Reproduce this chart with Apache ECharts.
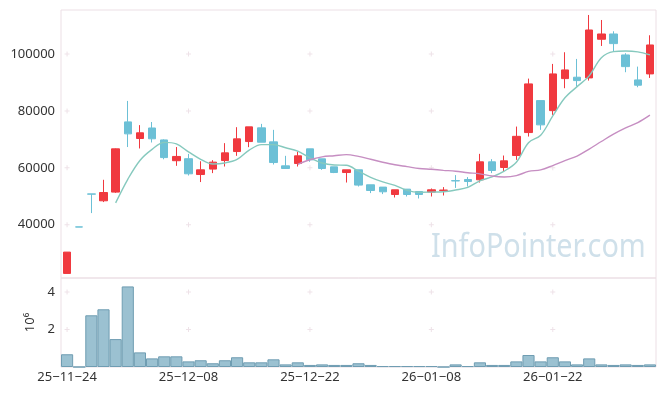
<!DOCTYPE html>
<html><head><meta charset="utf-8">
<script src="https://cdn.jsdelivr.net/npm/echarts@6/dist/echarts.min.js"></script>
<style>html,body{margin:0;padding:0;background:#fff}#c{width:665px;height:396px}</style>
</head><body><div id="c"></div>
<script>
const dates = ['25-11-24','25-11-25','25-11-26','25-11-27','25-11-28','25-12-01','25-12-02','25-12-03','25-12-04','25-12-05',
  '25-12-08','25-12-09','25-12-10','25-12-11','25-12-12','25-12-15','25-12-16','25-12-17','25-12-18','25-12-19',
  '25-12-22','25-12-23','25-12-24','25-12-26','25-12-29','25-12-30','26-01-02','26-01-05','26-01-06','26-01-07',
  '26-01-08','26-01-09','26-01-12','26-01-13','26-01-14','26-01-15','26-01-16','26-01-19','26-01-20','26-01-21',
  '26-01-22','26-01-23','26-01-26','26-01-27','26-01-28','26-01-29','26-01-30','26-02-02','26-02-03'];
const opens  = [22900,39250,50850,48420,51470,76140,70300,74000,69800,62500,63200,57650,59550,62560,65720,69230,74040,69120,60700,61510,
  66670,63160,60350,58350,59300,54040,53230,50630,52510,51690,51480,52050,55500,55900,55790,62110,60110,64320,72390,83620,
  80110,91340,91830,91580,105160,107020,99650,90880,92990];
const closes = [30400,39200,50750,51330,66670,71930,72300,70200,63600,64000,57900,59300,62000,65260,70180,74390,69000,61860,59760,64210,
  62810,59760,58350,59300,53930,52040,51580,52280,50630,50630,52280,52200,55400,55190,62110,59060,62460,71060,89480,75090,
  92990,94390,90640,108420,107020,103630,95550,89020,103160];
const lows   = [22900,39200,44100,47970,51200,67300,66800,68900,63000,60700,57300,55000,58140,60460,64210,67260,69000,61160,59760,60460,
  62110,59300,58140,54840,53440,51120,50770,49580,49930,49230,49930,50280,52950,53440,54840,58140,58700,62810,70990,73340,
  78600,87960,88530,90640,102810,100810,93580,88300,91580];
const highs  = [30400,39250,50850,55800,66800,83500,75000,76100,70000,67300,64900,62300,62700,68670,74280,74390,75440,73340,64210,65720,
  66670,63160,60350,59300,59300,54040,53230,52280,52510,51690,52740,53230,57440,56740,64910,63050,64320,74490,91340,83620,
  96500,100600,98250,113690,111930,107970,100250,95550,106560];
const volumes = [680000,0,2760000,3080000,1490000,4300000,780000,460000,570000,570000,300000,360000,200000,360000,520000,250000,250000,410000,140000,250000,
  110000,140000,110000,110000,200000,110000,50000,50000,50000,50000,50000,0,140000,50000,250000,110000,110000,300000,640000,300000,
  520000,300000,140000,460000,140000,110000,140000,110000,140000];
const priceTicks = [40000,60000,80000,100000];
const volumeTicks = [2000000,4000000];
const maShort = 5, maLong = 20;
const labelEvery = 10;

function movingAverage(n){
  return closes.map((c,i)=>{
    if(i<n-1) return '-';
    let s=0; for(let k=i-n+1;k<=i;k++) s+=closes[k];
    return +(s/n).toFixed(1);
  });
}
const labelIdx = dates.map((d,i)=>i).filter(i=>i%labelEvery===0);
const plusPrice=[], plusVol=[];
labelIdx.forEach(i=>{ priceTicks.forEach(v=>plusPrice.push([dates[i],v])); volumeTicks.forEach(v=>plusVol.push([dates[i],v])); });

const FONT='Noto Sans';
const border='#ecdfe5';
const plusSym='path://M2,0h1v5h-1z M0,2h5v1h-5z';
const chart=echarts.init(document.getElementById('c'),null,{renderer:'canvas'});
chart.setOption({
  animation:false,
  backgroundColor:'#fff',
  textStyle:{fontFamily:FONT},
  grid:[
    {left:61,top:10,width:595,height:268,show:true,borderColor:border,borderWidth:1,backgroundColor:'transparent'},
    {left:61,top:278,width:595,height:89,show:true,borderColor:border,borderWidth:1,backgroundColor:'transparent'}
  ],
  xAxis:[
    {type:'category',gridIndex:0,data:dates,boundaryGap:true,axisLine:{show:false},axisTick:{show:false},axisLabel:{show:false},splitLine:{show:false}},
    {type:'category',gridIndex:1,data:dates,boundaryGap:true,axisLine:{show:false},axisTick:{show:false},splitLine:{show:false},
     axisLabel:{interval:labelEvery-1,margin:4,color:'#333',fontSize:13,fontFamily:FONT,formatter:v=>v.replace(/-/g,'\u2212')}}
  ],
  yAxis:[
    {type:'value',gridIndex:0,min:21300,max:115440,splitNumber:5,axisLine:{show:false},axisTick:{show:false},splitLine:{show:false},
     axisLabel:{margin:6,color:'#333',fontSize:13,fontFamily:FONT,formatter:v=>priceTicks.indexOf(v)>=0?String(v):''}},
    {type:'value',gridIndex:1,min:0,max:4750000,splitNumber:2,axisLine:{show:false},axisTick:{show:false},splitLine:{show:false},
     name:'10\u2076',nameLocation:'middle',nameRotate:90,nameGap:20,nameTextStyle:{color:'#333',fontSize:13,fontFamily:FONT},
     axisLabel:{margin:6,color:'#333',fontSize:13,fontFamily:FONT,formatter:v=>volumeTicks.indexOf(v)>=0?String(v/1e6):''}}
  ],
  series:[
    {type:'scatter',xAxisIndex:0,yAxisIndex:0,data:plusPrice,symbol:plusSym,symbolSize:5,silent:true,z:1,itemStyle:{color:'#eadbe2'}},
    {type:'scatter',xAxisIndex:1,yAxisIndex:1,data:plusVol,symbol:plusSym,symbolSize:5,silent:true,z:1,itemStyle:{color:'#eadbe2'}},
    {type:'candlestick',xAxisIndex:0,yAxisIndex:0,barWidth:8,z:3,
     data:dates.map((d,i)=>[opens[i],closes[i],lows[i],highs[i]]),
     itemStyle:{color:'#f0393f',color0:'#6cc0d6',borderColor:'#f0393f',borderColor0:'#6cc0d6',borderWidth:1}},
    {type:'line',xAxisIndex:0,yAxisIndex:0,data:movingAverage(maShort),smooth:0.35,showSymbol:false,z:4,
     lineStyle:{color:'#86c9be',width:1.4}},
    {type:'line',xAxisIndex:0,yAxisIndex:0,data:movingAverage(maLong),smooth:0.35,showSymbol:false,z:4,
     lineStyle:{color:'#c68ec2',width:1.4}},
    {type:'bar',xAxisIndex:1,yAxisIndex:1,data:volumes,barWidth:'100%',z:3,
     itemStyle:{color:'#9bc1d1',borderColor:'#6f9db2',borderWidth:1}}
  ],
  graphic:[
    {type:'text',left:431,top:232,z:0,silent:true,style:{text:'InfoPointer.com',fill:'#cfe0ea',font:'32px "Noto Sans"'},scaleX:0.9}
  ]
});
</script></body></html>
